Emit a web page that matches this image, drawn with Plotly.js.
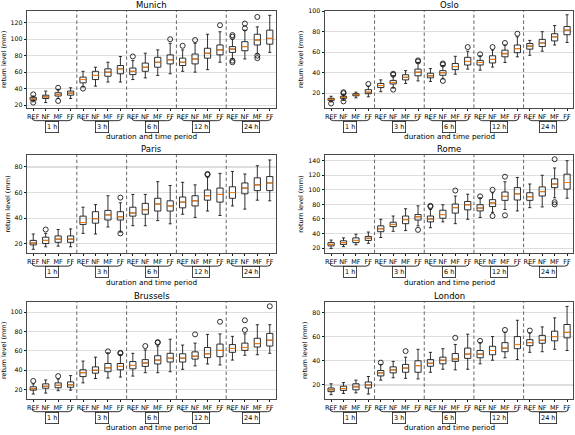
<!DOCTYPE html>
<html>
<head>
<meta charset="utf-8">
<script src="https://cdn.plot.ly/plotly-3.0.1.min.js"></script>
<style>html,body{margin:0;padding:0;background:#fff;}#chart{width:575px;height:435px;}</style>
</head>
<body>
<div id="chart"></div>
<script>
const cities = ['Munich','Oslo','Paris','Rome','Brussels','London'];
const periods = ['REF','NF','MF','FF'];
const durations = ['1 h','3 h','6 h','12 h','24 h'];

// Munich
const munichLow  = [24,23,28,28, 42,43,48,48, 51,53,56,58, 61,60,63,72, 76,76,82,84];
const munichQ1   = [26,28,31,32, 47,51,55,58, 57,61,66,70, 68,70,77,81, 84,86,93,94];
const munichMed  = [27.5,30,33,34.5, 51,56,60,64, 61,66,72,75, 72,76,83,87, 88,91,99,101];
const munichQ3   = [29.5,32,35,37, 54,61,64,68, 65,71,78,81, 77,82,89,93, 91,97,106,111];
const munichHigh = [31,37,39,41, 61,66,72,79, 74,83,87,95, 87,95,106,109, 100,111,115,129];
const munichOut  = [[33,23],[],[41,25],[], [40],[],[],[], [79],[],[],[100], [92],[99],[],[117], [103,105,74,72],[113,119],[127,80,77],[]];

// Oslo
const osloLow  = [11.5,13,15.5,16.5, 21.5,25,29.5,32, 31.5,34,38.5,43.5, 42.5,45.5,50,55.5, 57,61,67,69.5];
const osloQ1   = [13,15,17.5,19.5, 25.5,29,33,37, 35,37.5,43,47.5, 47.5,49.5,55.5,59.5, 63,65.5,71,77];
const osloMed  = [14,16,18.5,21, 27.5,30.5,35.5,40.5, 37,40,46,51, 50,53,58.5,63.5, 66,69,75,81.5];
const osloQ3   = [15,17,19.5,23.5, 29.5,32.5,38,43.5, 39.5,42,49,55, 52,56.5,62,67, 68.5,72.5,78,85];
const osloHigh = [17,19,21,27, 33,37,42,50, 44,47,56,61, 56.5,62,67,75, 71.5,80,86,96.5];
const osloOut  = [[10],[20,21,12],[],[29], [],[38,39,23.5],[],[51,52], [],[48,49,32],[],[65], [58],[65],[69],[78], [],[],[],[]];

// Paris
const parisLow  = [15.5,17.5,18,17.5, 28,27.5,33,29, 34,34,38,35.5, 43,40.5,45.5,42, 49.5,47,54,53.5];
const parisQ1   = [19,20,21,21, 35,36,38.5,38.5, 41.5,43,45.5,45.5, 48,49.5,54,52.5, 55.5,59,61.5,61.5];
const parisMed  = [20.5,22.5,23.5,23.5, 36.5,39.5,42.5,41, 44,46.5,51,49.5, 52.5,53.5,57.5,58.5, 60,63.5,66,67.5];
const parisQ3   = [22.5,25,26,26, 41.5,45,46,45, 48.5,51.5,55.5,53.5, 56.5,57.5,62,63.5, 64.5,67.5,71.5,72.5];
const parisHigh = [27.5,28,31,31.5, 48.5,50.5,57.5,52, 58.5,58.5,68.5,65.5, 68,66,72,75, 76.5,74.5,81,85.5];
const parisOut  = [[],[31],[],[], [],[],[],[56,28], [],[],[],[], [],[],[74,74.5],[], [],[],[],[]];

// Rome
const romeLow  = [19.5,22,24.5,26.5, 34.5,43,44,50.5, 48,56,53.5,59.5, 62,69,73,71, 75.5,76.5,89,88.5];
const romeQ1   = [23,25,27.5,30.5, 42.5,49.5,53.5,58.5, 56,61,68,72.5, 71,77,85.5,86, 85.5,91.5,103,101];
const romeMed  = [25,27.5,30.5,33.5, 46.5,52.5,59,63, 60,66,75.5,79.5, 75,82,91,94.5, 90.5,97.5,108,110];
const romeQ3   = [27.5,30,34,36, 50.5,55.5,64,66, 64,72,80.5,84, 79.5,86.5,97,103, 96,104,115,121.5];
const romeHigh = [31,34,39,42, 59.5,64,74,78, 73,79.5,91.5,94, 89,96,111,117, 108,120,130,140];
const romeOut  = [[],[],[],[], [],[],[],[45], [77,78],[],[99],[], [91],[100,64],[118,65],[], [],[],[142,83,80],[]];

// Brussels
const brusselsLow  = [15.5,16.5,19,19.5, 27,31.5,32,33, 34,37.5,37.5,38.5, 41,44.5,46.5,45.5, 50.5,55.5,56,57.5];
const brusselsQ1   = [19.5,21.5,22,22.5, 33.5,37,38.5,40.5, 41.5,44,46.5,48.5, 48.5,51.5,53,54, 58.5,60.5,64,65];
const brusselsMed  = [21,23.5,24.5,25, 37.5,40,42.5,44, 45,47.5,50.5,52.5, 52.5,54.5,57,60.5, 62.5,63.5,67.5,71];
const brusselsQ3   = [23,26,27,28, 40.5,43.5,47,47, 49,51,55,57.5, 57,59,63.5,67, 66.5,68,73,78];
const brusselsHigh = [26,30,31,34.5, 49.5,53.5,58,56, 57.5,61,65,72, 66,68,77,77.5, 75,77.5,87,87];
const brusselsOut  = [[29],[],[34],[], [],[],[59.5],[57.5,58], [],[65],[68.5,69],[], [],[77],[],[90], [],[81.5,91.5],[],[106]];

// London
const londonLow  = [12,13,13.5,12.5, 24,26,25.5,25, 30.5,33,32.5,33, 37.5,40.5,42.5,41, 47,47.5,49.5,48.5];
const londonQ1   = [14.5,15.5,16,17.5, 27.5,30,30.5,30.5, 35.5,37.5,39.5,42, 42.5,45,47.5,50, 52.5,54.5,56.5,59];
const londonMed  = [16,17,18.5,20, 30,32.5,34,36, 38,40.5,41.5,45.5, 45.5,48.5,50.5,53.5, 55,57,60,63.5];
const londonQ3   = [17.5,19,21,22.5, 32,35,37,40, 41,43,46,50.5, 48.5,52,55,60, 57.5,61,64.5,70];
const londonHigh = [21,22,24,27, 37,39.5,43,49.5, 47,50,53.5,62, 55,60,63.5,73.5, 63,68,75.5,85];
const londonOut  = [[],[],[],[], [38.5],[],[48],[], [],[],[59],[], [56.5],[],[65.5],[], [65],[],[],[]];

const cityData = [
  [munichLow, munichQ1, munichMed, munichQ3, munichHigh, munichOut],
  [osloLow, osloQ1, osloMed, osloQ3, osloHigh, osloOut],
  [parisLow, parisQ1, parisMed, parisQ3, parisHigh, parisOut],
  [romeLow, romeQ1, romeMed, romeQ3, romeHigh, romeOut],
  [brusselsLow, brusselsQ1, brusselsMed, brusselsQ3, brusselsHigh, brusselsOut],
  [londonLow, londonQ1, londonMed, londonQ3, londonHigh, londonOut]
];

// layout geometry
const colX = [[0.047, 0.480], [0.565, 0.997]];
const rowY = [[0.752, 0.975], [0.418, 0.644], [0.083, 0.306]];
const yRanges = [[16.6, 134.4], [5.7, 100.3], [12.5, 89.5], [13, 148], [10.5, 110.5], [8.5, 88.7]];

const FONT = 'DejaVu Sans, Liberation Sans, sans-serif';
const INK = '#1a1a1a';
const BOX_W = 0.5;

const nBox = periods.length * durations.length;
const positions = Array.from({length: nBox}, (_, i) => i + 1);
const tickText = positions.map((p, i) => periods[i % periods.length]);

const traces = [];
const layout = {
  width: 575, height: 435,
  margin: {l: 0, r: 0, t: 0, b: 0},
  paper_bgcolor: '#fff', plot_bgcolor: '#fff',
  showlegend: false,
  boxmode: 'overlay',
  font: {family: FONT, color: INK},
  shapes: [], annotations: []
};

cities.forEach((city, k) => {
  const [lo, q1, med, q3, hi, out] = cityData[k];
  const n = k + 1;
  const xa = 'x' + (n === 1 ? '' : n);
  const ya = 'y' + (n === 1 ? '' : n);
  const row = Math.floor(k / 2), col = k % 2;

  traces.push({
    type: 'box', xaxis: xa, yaxis: ya,
    x: positions, q1: q1, median: med, q3: q3, lowerfence: lo, upperfence: hi,
    boxpoints: false, width: BOX_W, whiskerwidth: 0.5,
    line: {color: INK, width: 0.9}, fillcolor: 'rgba(0,0,0,0)', hoverinfo: 'skip'
  });
  // orange median lines
  const mx = [], my = [];
  positions.forEach((p, i) => { mx.push(p - BOX_W / 2, p + BOX_W / 2, null); my.push(med[i], med[i], null); });
  traces.push({
    type: 'scatter', mode: 'lines', xaxis: xa, yaxis: ya, x: mx, y: my,
    line: {color: '#ff7f0e', width: 1}, hoverinfo: 'skip', connectgaps: false
  });
  const ox = [], oy = [];
  out.forEach((vals, i) => vals.forEach(v => { ox.push(positions[i]); oy.push(v); }));
  traces.push({
    type: 'scatter', mode: 'markers', xaxis: xa, yaxis: ya, x: ox, y: oy,
    marker: {symbol: 'circle-open', size: 5, color: INK, line: {width: 0.9, color: INK}},
    hoverinfo: 'skip'
  });

  const xName = 'xaxis' + (n === 1 ? '' : n);
  const yName = 'yaxis' + (n === 1 ? '' : n);
  layout[xName] = {
    domain: colX[col], anchor: ya, range: [0.5, nBox + 0.5],
    tickmode: 'array', tickvals: positions, ticktext: tickText,
    tickfont: {size: 6.5, family: FONT, color: '#000'}, tickangle: 0,
    ticks: 'outside', ticklen: 2.5, tickcolor: INK,
    showgrid: false, zeroline: false, showline: true, mirror: true,
    linecolor: INK, linewidth: 0.8
  };
  layout[yName] = {
    domain: rowY[row], anchor: xa, range: yRanges[k], dtick: 20,
    tickfont: {size: 6.3, family: FONT, color: '#000'},
    ticks: 'outside', ticklen: 2.5, tickcolor: INK,
    showgrid: true, gridcolor: '#dedede', gridwidth: 1.1,
    zeroline: false, showline: true, mirror: true, linecolor: INK, linewidth: 0.8,
    title: {text: 'return level (mm)', font: {size: 6.5, family: FONT, color: '#000'}, standoff: 3}
  };

  const yDom = ya + ' domain';
  // dashed separators
  for (let g = 1; g < durations.length; g++) {
    const xb = g * periods.length + 0.5;
    layout.shapes.push({type: 'line', xref: xa, yref: yDom, x0: xb, x1: xb, y0: 0, y1: 1,
      line: {color: '#666', width: 1, dash: '3.5px,2.5px'}, layer: 'above'});
  }
  // brackets and duration labels
  durations.forEach((d, g) => {
    const xs = positions[g * periods.length] - 0.1;
    const xe = positions[(g + 1) * periods.length - 1] + 0.1;
    const yb = -0.132, yh = -0.1;
    layout.shapes.push({type: 'path', xref: xa, yref: yDom,
      path: `M ${xs},${yh} Q ${xs},${yb} ${xs + 0.3},${yb} L ${xe - 0.3},${yb} Q ${xe},${yb} ${xe},${yh}`,
      line: {color: INK, width: 0.9}});
    layout.annotations.push({xref: xa, yref: yDom, x: (xs + xe) / 2, y: -0.132,
      xanchor: 'center', yanchor: 'top', showarrow: false, text: d,
      font: {size: 6.5, family: FONT, color: '#000'},
      bordercolor: INK, borderwidth: 0.8, borderpad: 1.2, bgcolor: '#fff'});
  });
  // x title
  layout.annotations.push({xref: xa + ' domain', yref: yDom, x: 0.5, y: -0.3,
    xanchor: 'center', yanchor: 'middle', showarrow: false,
    text: 'duration and time period', font: {size: 7.3, family: FONT, color: '#000'}});
  // city title
  layout.annotations.push({xref: xa + ' domain', yref: yDom, x: 0.5, y: 1,
    xanchor: 'center', yanchor: 'bottom', showarrow: false, yshift: -1,
    text: city, font: {size: 8.5, family: FONT, color: '#000'}});
});

Plotly.newPlot('chart', traces, layout, {displayModeBar: false, staticPlot: true});
</script>
</body>
</html>
